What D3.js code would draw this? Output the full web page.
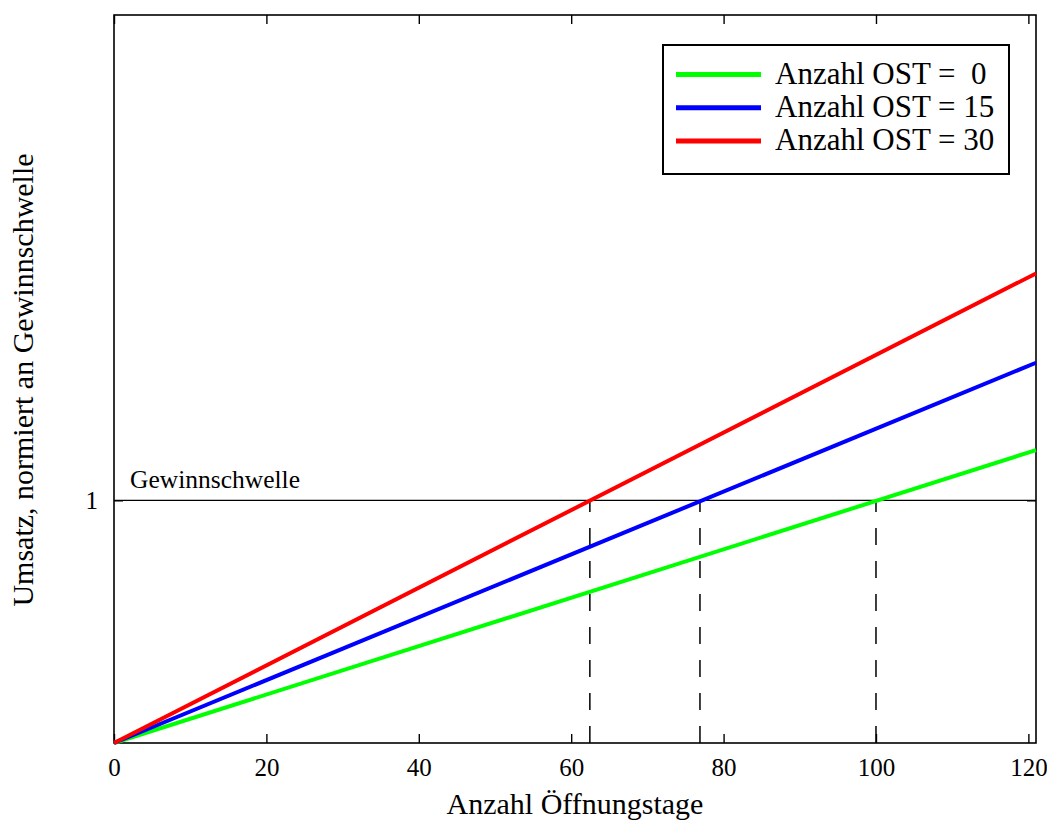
<!doctype html>
<html>
<head>
<meta charset="utf-8">
<script src="https://cdn.jsdelivr.net/npm/d3@7"></script>
<style>
html,body{
    margin: 0;
    background: #fff;
}
text {
    font-family: "Liberation Serif", "DejaVu Serif", serif;
    fill: #000;
}
</style>
</head>
<body>
<script>
// Umsatz vs. Öffnungstage, normiert auf die Gewinnschwelle
var seriesNames = ["Anzahl OST =  0", "Anzahl OST = 15", "Anzahl OST = 30"];
var seriesColors = ["#00ff00", "#0000ff", "#ff0000"];
var days = [0, 121];
var greenValues = [0, 1.207];
var blueValues = [0, 1.567];
var redValues = [0, 1.935];
var breakEvenDays = [100, 76.9, 62.45];
var xTicks = [0, 20, 40, 60, 80, 100, 120];
var yTicks = [1];

(function(){
    var w = 1047,
        h = 820,
        margin = {top: 15, right: 11, bottom: 77, left: 114},
        iw = w - margin.left - margin.right,
        ih = h - margin.top - margin.bottom;

    var x = d3.scaleLinear().domain([0, 121]).range([0, iw]);
    var y = d3.scaleLinear().domain([0, 3]).range([ih, 0]);

    var svg = d3.select("body").append("svg")
        .attr("width", w)
        .attr("height", h);

    var g = svg.append("g")
        .attr("transform", "translate(" + margin.left + "," + margin.top + ")");

    // axes with inward ticks, MATLAB style box
    var xb = g.append("g").attr("transform", "translate(0," + ih + ")")
        .call(d3.axisBottom(x).tickValues(xTicks).tickSizeInner(-9).tickSizeOuter(0).tickPadding(15));
    var xt = g.append("g")
        .call(d3.axisTop(x).tickValues(xTicks).tickSizeInner(-9).tickSizeOuter(0).tickFormat(""));
    var yl = g.append("g")
        .call(d3.axisLeft(y).tickValues(yTicks).tickFormat(d3.format("d")).tickSizeInner(-9).tickSizeOuter(0).tickPadding(16));
    var yr = g.append("g").attr("transform", "translate(" + iw + ",0)")
        .call(d3.axisRight(y).tickValues(yTicks).tickSizeInner(-9).tickSizeOuter(0).tickFormat(""));

    [xb, xt, yl, yr].forEach(function(a){
        a.attr("font-size", null).attr("font-family", null);
        a.select(".domain").remove();
        a.selectAll(".tick line").attr("stroke", "#000").attr("stroke-width", 1.4);
        a.selectAll(".tick text").style("font-size", "25px");
    });

    g.append("rect")
        .attr("width", iw).attr("height", ih)
        .attr("fill", "none").attr("stroke", "#000").attr("stroke-width", 1.6);

    // Gewinnschwelle
    g.append("line")
        .attr("x1", x(0)).attr("x2", x(121))
        .attr("y1", y(1)).attr("y2", y(1))
        .attr("stroke", "#000").attr("stroke-width", 1.2);
    g.append("text")
        .attr("x", x(2.1)).attr("y", y(1) - 12)
        .style("font-size", "25.5px")
        .text("Gewinnschwelle");

    // dashed verticals at break-even points
    g.selectAll(".be").data(breakEvenDays).enter().append("line")
        .attr("class", "be")
        .attr("x1", function(d){return x(d)}).attr("x2", function(d){return x(d)})
        .attr("y1", y(0)).attr("y2", y(1))
        .attr("stroke", "#000").attr("stroke-width", 1.5)
        .attr("stroke-dasharray", "17,16");

    // lines
    var series = [greenValues, blueValues, redValues];
    var line = d3.line()
        .x(function(d, i){return x(days[i])})
        .y(function(d){return y(d)});

    g.selectAll(".series").data(series).enter().append("path")
        .attr("class", "series")
        .attr("d", line)
        .attr("fill", "none")
        .attr("stroke", function(d, i){return seriesColors[i]})
        .attr("stroke-width", 4);

    // axis labels
    svg.append("text")
        .attr("x", margin.left + iw / 2).attr("y", 814)
        .attr("text-anchor", "middle")
        .style("font-size", "30px")
        .text("Anzahl Öffnungstage");
    svg.append("text")
        .attr("transform", "translate(33," + (margin.top + 365) + ") rotate(-90)")
        .attr("text-anchor", "middle")
        .style("font-size", "30px")
        .text("Umsatz, normiert an Gewinnschwelle");

    // legend
    var lg = svg.append("g").attr("transform", "translate(663,45)");
    lg.append("rect")
        .attr("width", 346).attr("height", 129)
        .attr("fill", "#fff").attr("stroke", "#000").attr("stroke-width", 2);
    var items = lg.selectAll(".item").data(seriesNames).enter().append("g")
        .attr("class", "item")
        .attr("transform", function(d, i){return "translate(0," + (29.5 + i * 33.3) + ")"});
    items.append("line")
        .attr("x1", 13).attr("x2", 98)
        .attr("stroke", function(d, i){return seriesColors[i]})
        .attr("stroke-width", 5);
    items.append("text")
        .attr("x", 112).attr("y", 9)
        .style("font-size", "31px")
        .style("white-space", "pre")
        .text(function(d){return d});
})();
</script>
</body>
</html>
